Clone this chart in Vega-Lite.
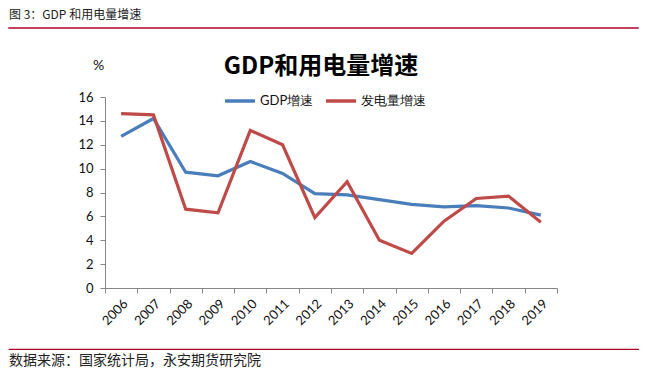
{
  "$schema": "https://vega.github.io/schema/vega-lite/v6.json",
  "padding": {"left": 8, "top": 8, "right": 8, "bottom": 0},
  "background": "white",
  "config": {
    "font": "Noto Sans CJK SC",
    "view": {"stroke": null}
  },
  "spacing": 26,
  "resolve": {"legend": {"color": "independent"}},
  "vconcat": [
    {
      "width": 629,
      "height": 0.01,
      "data": {"values": []},
      "mark": {"type": "point"},
      "view": {"stroke": "#b0002a", "strokeWidth": 1.5},
      "title": {"text": "图 3：GDP 和用电量增速", "anchor": "start", "orient": "top", "font": "Noto Sans CJK SC", "fontSize": 12, "fontWeight": "normal", "color": "#222", "offset": 6}
    },
    {
      "spacing": 20,
      "resolve": {"legend": {"color": "independent"}},
      "vconcat": [
        {
          "width": 548,
          "height": 191,
          "data": {"values": [
            {"year": "2006", "series": "GDP增速", "value": 12.7},
            {"year": "2007", "series": "GDP增速", "value": 14.2},
            {"year": "2008", "series": "GDP增速", "value": 9.7},
            {"year": "2009", "series": "GDP增速", "value": 9.4},
            {"year": "2010", "series": "GDP增速", "value": 10.6},
            {"year": "2011", "series": "GDP增速", "value": 9.6},
            {"year": "2012", "series": "GDP增速", "value": 7.9},
            {"year": "2013", "series": "GDP增速", "value": 7.8},
            {"year": "2014", "series": "GDP增速", "value": 7.4},
            {"year": "2015", "series": "GDP增速", "value": 7.0},
            {"year": "2016", "series": "GDP增速", "value": 6.8},
            {"year": "2017", "series": "GDP增速", "value": 6.9},
            {"year": "2018", "series": "GDP增速", "value": 6.7},
            {"year": "2019", "series": "GDP增速", "value": 6.1},
            {"year": "2006", "series": "发电量增速", "value": 14.6},
            {"year": "2007", "series": "发电量增速", "value": 14.5},
            {"year": "2008", "series": "发电量增速", "value": 6.6},
            {"year": "2009", "series": "发电量增速", "value": 6.3},
            {"year": "2010", "series": "发电量增速", "value": 13.2},
            {"year": "2011", "series": "发电量增速", "value": 12.0},
            {"year": "2012", "series": "发电量增速", "value": 5.9},
            {"year": "2013", "series": "发电量增速", "value": 8.9},
            {"year": "2014", "series": "发电量增速", "value": 4.0},
            {"year": "2015", "series": "发电量增速", "value": 2.9},
            {"year": "2016", "series": "发电量增速", "value": 5.6},
            {"year": "2017", "series": "发电量增速", "value": 7.5},
            {"year": "2018", "series": "发电量增速", "value": 7.7},
            {"year": "2019", "series": "发电量增速", "value": 5.5}
          ]},
          "title": {"text": "GDP和用电量增速", "anchor": "middle", "frame": "group", "dx": 38, "font": "Noto Sans CJK SC", "fontSize": 24, "fontWeight": "bold", "color": "#000", "offset": -21},
          "mark": {"type": "line", "strokeWidth": 3.2},
          "encoding": {
            "x": {
              "field": "year", "type": "ordinal",
              "scale": {"paddingInner": 0, "paddingOuter": 0, "range": [96, 548]},
              "axis": {
                "title": null, "labelAngle": -45, "labelFont": "Lato", "labelFontSize": 13, "labelColor": "#111",
                "domainColor": "#868686", "tickColor": "#868686", "tickSize": 5, "tickBand": "extent",
                "labelPadding": 4, "grid": false
              }
            },
            "y": {
              "field": "value", "type": "quantitative",
              "scale": {"domain": [0, 16]},
              "axis": {
                "offset": -96,
                "title": "%", "titleAngle": 0, "titleX": -7, "titleY": -25, "titleFont": "Lato", "titleFontSize": 14, "titleFontWeight": "normal", "titleColor": "#111",
                "values": [0, 2, 4, 6, 8, 10, 12, 14, 16],
                "labelFont": "Lato", "labelFontSize": 13, "labelColor": "#111", "labelPadding": 7,
                "domainColor": "#868686", "tickColor": "#868686", "tickSize": 5, "grid": false
              }
            },
            "color": {
              "field": "series", "type": "nominal",
              "scale": {"domain": ["GDP增速", "发电量增速"], "range": ["#4a7ebb", "#be4b48"]},
              "legend": {
                "title": null, "orient": "none", "legendX": 214, "legendY": -13, "direction": "horizontal",
                "symbolType": "stroke", "symbolSize": 900, "symbolStrokeWidth": 3.5,
                "labelFont": "Lato", "labelFontSize": 13, "labelColor": "#111", "labelOffset": 3, "columnPadding": 5
              }
            }
          }
        },
        {
          "width": 629,
          "height": 0.01,
          "data": {"values": []},
          "mark": {"type": "point"},
          "view": {"stroke": "#b0002a", "strokeWidth": 1.2},
          "title": {"text": "数据来源：国家统计局，永安期货研究院", "anchor": "start", "orient": "bottom", "font": "Noto Sans CJK SC", "fontSize": 14, "fontWeight": "normal", "color": "#222", "offset": 5}
        }
      ]
    }
  ]
}
